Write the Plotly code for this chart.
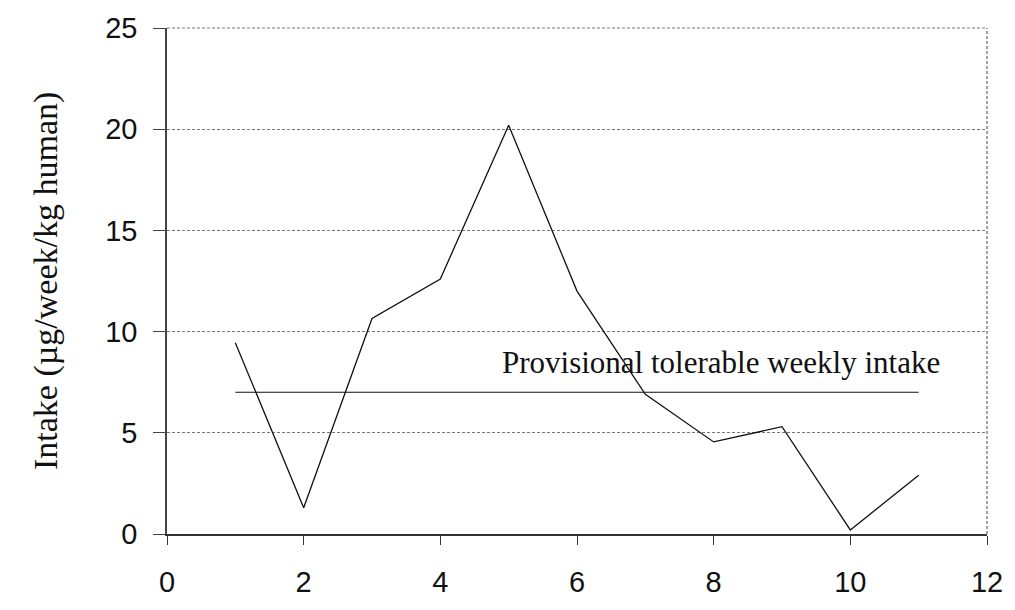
import plotly.graph_objects as go

# Weekly intake per sampling point
sample_no = [1, 2, 3, 4, 5, 6, 7, 8, 9, 10, 11]
intake = [9.45, 1.3, 10.65, 12.6, 20.2, 12.0, 6.9, 4.55, 5.3, 0.2, 2.9]

# Provisional tolerable weekly intake reference line
ptwi_x = [1, 11]
ptwi_value = 7
ptwi_label = "Provisional tolerable weekly intake"

x_ticks = [0, 2, 4, 6, 8, 10, 12]
y_ticks = [0, 5, 10, 15, 20, 25]

SANS = "Liberation Sans, Arial, sans-serif"
SERIF = "Liberation Serif, Times New Roman, serif"

fig = go.Figure()

fig.add_trace(go.Scatter(
    x=sample_no, y=intake, mode="lines",
    line=dict(color="#111111", width=1.3),
    showlegend=False, hoverinfo="skip",
))

fig.add_trace(go.Scatter(
    x=ptwi_x, y=[ptwi_value] * len(ptwi_x), mode="lines",
    line=dict(color="#111111", width=1.1),
    showlegend=False, hoverinfo="skip",
))

fig.add_annotation(
    x=8.1, y=ptwi_value, xref="x", yref="y",
    text=ptwi_label, showarrow=False,
    xanchor="center", yanchor="bottom", yshift=10,
    font=dict(family=SERIF, size=31, color="#111111"),
)

# Y axis title
fig.add_annotation(
    x=0, y=0.5, xref="paper", yref="paper",
    text="Intake (µg/week/kg human)", showarrow=False,
    textangle=-90, xanchor="center", yanchor="middle", xshift=-121,
    font=dict(family=SERIF, size=34, color="#111111"),
)

# Dashed top and right borders of the plot area
fig.add_shape(
    type="line", xref="paper", yref="paper",
    x0=1, x1=1, y0=0, y1=1,
    line=dict(color="#666666", width=1.2, dash="3px,2px"),
)
fig.add_shape(
    type="line", xref="paper", yref="paper",
    x0=0, x1=1, y0=1, y1=1,
    line=dict(color="#777777", width=1, dash="3px,2px"),
)

fig.update_xaxes(
    range=[0, 12], tickvals=x_ticks, ticktext=[str(v) for v in x_ticks],
    showgrid=False, zeroline=False,
    showline=True, linecolor="#333333", linewidth=2,
    ticks="outside", ticklen=9, tickwidth=1.2, tickcolor="#333333",
    tickfont=dict(family=SANS, size=29, color="#111111"),
    ticklabelstandoff=12, ticklabeloverflow="allow",
)

fig.update_yaxes(
    range=[0, 25], tickvals=y_ticks, ticktext=[str(v) for v in y_ticks],
    showgrid=True, gridcolor="#777777", griddash="3px,2px", gridwidth=1,
    zeroline=False,
    showline=True, linecolor="#444444", linewidth=1.5,
    ticks="outside", ticklen=12, tickwidth=1.2, tickcolor="#444444",
    tickfont=dict(family=SANS, size=29, color="#111111"),
    ticklabelstandoff=10,
)

fig.update_layout(
    width=1015, height=610,
    margin=dict(l=167, r=15, t=26, b=56),
    paper_bgcolor="white", plot_bgcolor="white",
)

fig.write_html("out.html")
